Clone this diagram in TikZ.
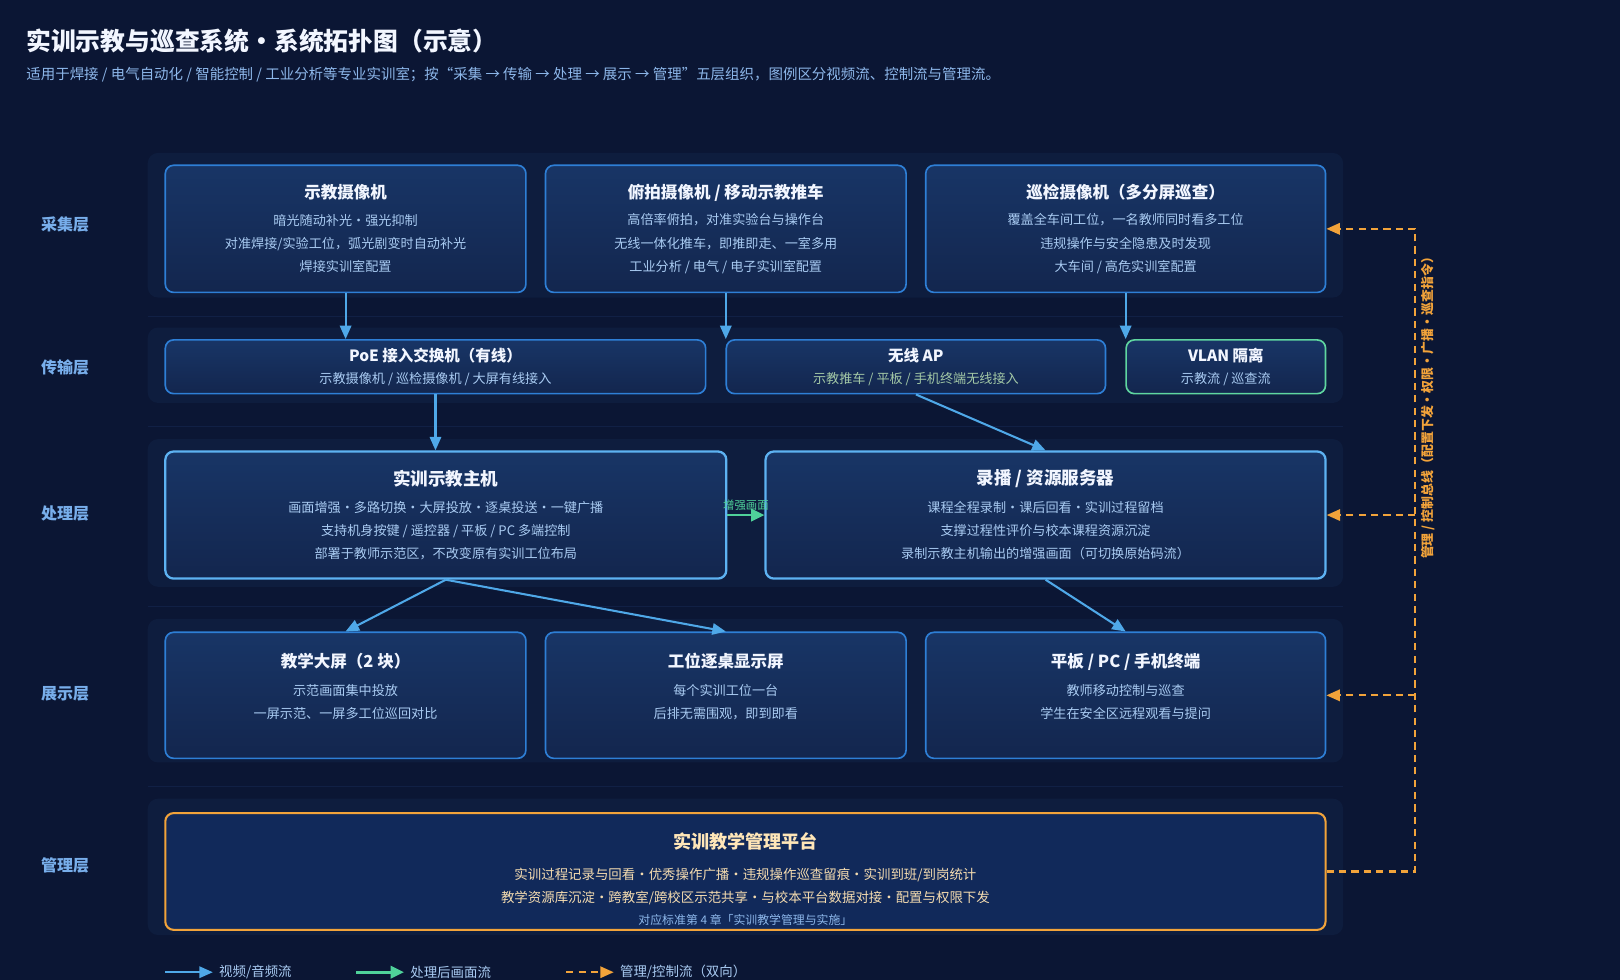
\documentclass[tikz,border=0pt]{standalone}
\usepackage{fontspec}
\setmainfont{Noto Sans CJK SC}
\usetikzlibrary{positioning, arrows.meta}

% 配色
\definecolor{bgcolor}{HTML}{0B1634}
\definecolor{bandcolor}{HTML}{0E1D3E}
\definecolor{sepcolor}{HTML}{112045}
\definecolor{boxtop}{HTML}{183566}
\definecolor{boxbottom}{HTML}{13264E}
\definecolor{boxline}{HTML}{2E7FD6}
\definecolor{coreline}{HTML}{5DB2F2}
\definecolor{vlanline}{HTML}{5FD6A0}
\definecolor{mgmtline}{HTML}{F2A33A}
\definecolor{mgmtfill}{HTML}{11295A}
\definecolor{titletext}{HTML}{F2F6FF}
\definecolor{bodytext}{HTML}{A9CBF2}
\definecolor{layertext}{HTML}{78AEEB}
\definecolor{subtext}{HTML}{8DB7EA}
\definecolor{aptext}{HTML}{A3C8A6}
\definecolor{mgmttext}{HTML}{F5DCB0}
\definecolor{mgmttitle}{HTML}{FFE6B8}
\definecolor{flowblue}{HTML}{4FA8E8}
\definecolor{flowgreen}{HTML}{4FD19A}
\definecolor{floworange}{HTML}{F2A33A}

\newcommand{\devtitle}[2][16]{{\fontsize{#1}{#1}\selectfont\bfseries\color{titletext}#2}}

\tikzset{
    devbox/.style={
        rectangle,
        rounded corners=8pt,
        draw=boxline,
        line width=1.6pt, % 设备框边线
        top color=boxtop,
        bottom color=boxbottom,
        align=center,
        inner sep=0,
        text=bodytext,
        font=\fontsize{12.7}{22.5}\selectfont
    },
    corebox/.style={
        devbox,
        draw=coreline,
        line width=2.2pt
    },
    vlanbox/.style={
        devbox,
        draw=vlanline
    },
    mgmtbox/.style={
        devbox,
        draw=mgmtline,
        line width=2pt,
        top color=mgmtfill,
        bottom color=mgmtfill,
        text=mgmttext,
        font=\fontsize{13}{22.5}\selectfont
    },
    layerlabel/.style={
        font=\fontsize{15.5}{18}\selectfont\bfseries,
        text=layertext
    },
    legendtext/.style={
        anchor=west,
        inner sep=3pt,
        font=\fontsize{13}{15}\selectfont,
        text=bodytext
    },
    videoflow/.style={
        draw=flowblue,
        line width=2pt,
        -{Triangle[length=13pt,width=11pt]}
    },
    picflow/.style={
        draw=flowgreen,
        line width=2.5pt,
        -{Triangle[length=13pt,width=12pt]}
    },
    ctrlflow/.style={
        draw=floworange,
        line width=2pt,
        dash pattern=on 7pt off 5pt,
        -{Triangle[length=13pt,width=11pt]}
    }
}

\begin{document}
\begin{tikzpicture}[x=1pt, y=-1pt]
    % 画布
    \fill[bgcolor] (0,0) rectangle (1568,948.5);
    \useasboundingbox (0,0) rectangle (1568,948.5);

    % 标题
    \node[anchor=west, font=\fontsize{24}{28}\selectfont\bfseries, text=titletext] (title) at (22,40)
        {实训示教与巡查系统·系统拓扑图（示意）};
    \node[anchor=west, font=\fontsize{14}{16}\selectfont, text=subtext] (subtitle) at (22,72)
        {适用于焊接 / 电气自动化 / 智能控制 / 工业分析等专业实训室；按“采集 → 传输 → 处理 → 展示 → 管理”五层组织，图例区分视频流、控制流与管理流。};

    % 分层底板
    \foreach \ya/\yb in {148/288, 317/390, 425/568, 599/738, 773/905}
        \fill[bandcolor, rounded corners=10pt] (143,\ya) rectangle (1300,\yb);
    \foreach \y in {306, 413, 587, 761}
        \draw[sepcolor, line width=1pt] (143,\y) -- (1300,\y);

    % 层名
    \node[layerlabel] (lcap) at (63,217) {采集层};
    \node[layerlabel] (ltrans) at (63,356) {传输层};
    \node[layerlabel] (lproc) at (63,497) {处理层};
    \node[layerlabel] (lshow) at (63,672) {展示层};
    \node[layerlabel] (lmgmt) at (63,838) {管理层};

    % 采集层
    \node[devbox, minimum width=349, minimum height=123] (cam1) at (334.5,221.5)
        {\devtitle{示教摄像机}\\[3pt]
         暗光随动补光·强光抑制\\
         对准焊接/实验工位，弧光剧变时自动补光\\
         焊接实训室配置};
    \node[devbox, minimum width=349, minimum height=123] (cam2) at (702.5,221.5)
        {\devtitle{俯拍摄像机 / 移动示教推车}\\[3pt]
         高倍率俯拍，对准实验台与操作台\\
         无线一体化推车，即推即走、一室多用\\
         工业分析 / 电气 / 电子实训室配置};
    \node[devbox, minimum width=387, minimum height=123] (cam3) at (1089.5,221.5)
        {\devtitle{巡检摄像机（多分屏巡查）}\\[3pt]
         覆盖全车间工位，一名教师同时看多工位\\
         违规操作与安全隐患及时发现\\
         大车间 / 高危实训室配置};

    % 传输层
    \node[devbox, minimum width=523, minimum height=52] (poe) at (421.5,355)
        {\devtitle[15]{PoE 接入交换机（有线）}\\[-1.5pt]
         示教摄像机 / 巡检摄像机 / 大屏有线接入};
    \node[devbox, minimum width=367, minimum height=52] (ap) at (886.5,355)
        {\devtitle[15]{无线 AP}\\[-1.5pt]
         \color{aptext}示教推车 / 平板 / 手机终端无线接入};
    \node[vlanbox, minimum width=193, minimum height=52] (vlan) at (1186.5,355)
        {\devtitle[15]{VLAN 隔离}\\[-1.5pt]
         示教流 / 巡查流};

    % 处理层
    \node[corebox, minimum width=543, minimum height=123] (host) at (431.5,498.5)
        {\devtitle[17]{实训示教主机}\\[4pt]
         画面增强·多路切换·大屏投放·逐桌投送·一键广播\\
         支持机身按键 / 遥控器 / 平板 / PC 多端控制\\
         部署于教师示范区，不改变原有实训工位布局};
    \node[corebox, minimum width=542, minimum height=123] (server) at (1012,498.5)
        {\devtitle[17]{录播 / 资源服务器}\\[4pt]
         课程全程录制·课后回看·实训过程留档\\
         支撑过程性评价与校本课程资源沉淀\\
         录制示教主机输出的增强画面（可切换原始码流）};

    % 展示层
    \node[devbox, minimum width=349, minimum height=122] (bigscreen) at (334.5,673)
        {\devtitle{教学大屏（2 块）}\\[5pt]
         示范画面集中投放\\
         一屏示范、一屏多工位巡回对比\\[-4pt]\mbox{}};
    \node[devbox, minimum width=349, minimum height=122] (desk) at (702.5,673)
        {\devtitle{工位逐桌显示屏}\\[5pt]
         每个实训工位一台\\
         后排无需围观，即到即看\\[-4pt]\mbox{}};
    \node[devbox, minimum width=387, minimum height=122] (tablet) at (1089.5,673)
        {\devtitle{平板 / PC / 手机终端}\\[5pt]
         教师移动控制与巡查\\
         学生在安全区远程观看与提问\\[-4pt]\mbox{}};

    % 管理层
    \node[mgmtbox, minimum width=1123, minimum height=113] (mgmt) at (721.5,843.5)
        {\mbox{}\\[8pt]
         {\fontsize{17.5}{20}\selectfont\bfseries\color{mgmttitle}实训教学管理平台}\\[7pt]
         实训过程记录与回看·优秀操作广播·违规操作巡查留痕·实训到班/到岗统计\\
         教学资源库沉淀·跨教室/跨校区示范共享·与校本平台数据对接·配置与权限下发\\[-1pt]
         {\fontsize{11.5}{13}\selectfont\color{subtext}对应标准第 4 章「实训教学管理与实施」}};

    % 视频流
    \draw[videoflow] (cam1.south) -- (cam1.south |- poe.north);
    \draw[videoflow] (cam2.south) -- (cam2.south |- ap.north);
    \draw[videoflow] (cam3.south) -- (cam3.south |- vlan.north);
    \draw[videoflow] (poe.south) -- (poe.south |- host.north);
    \draw[videoflow] (ap.south) -- (server.north);
    \draw[videoflow] (host.south) -- (bigscreen.north);
    \draw[videoflow] (host.south) -- (desk.north);
    \draw[videoflow] (server.south) -- (tablet.north);

    % 处理后画面流
    \draw[picflow] (host.east) -- node[above=3pt, inner sep=0, font=\fontsize{11}{12}\selectfont, text=flowgreen] (enhance) {增强画面} (server.west);

    % 管理/控制总线
    \coordinate (bus) at (1370,500);
    \draw[ctrlflow] (mgmt.east) -- (mgmt.east -| bus) -- (cam3.east -| bus) -- (cam3.east);
    \draw[ctrlflow] (server.east -| bus) -- (server.east);
    \draw[ctrlflow] (tablet.east -| bus) -- (tablet.east);
    \node[rotate=90, font=\fontsize{12.5}{14}\selectfont\bfseries, text=floworange] (buslabel) at (1382,392)
        {管理 / 控制总线（配置下发·权限·广播·巡查指令）};

    % 图例
    \coordinate (lgv) at (160,941);
    \node[legendtext] (lgvt) at (209,941) {视频/音频流};
    \draw[videoflow, shorten >=3pt] (lgv) -- (lgvt.west);
    \coordinate (lgg) at (345,941);
    \node[legendtext] (lggt) at (394,941) {处理后画面流};
    \draw[picflow, shorten >=3pt] (lgg) -- (lggt.west);
    \coordinate (lgc) at (548,941);
    \node[legendtext] (lgct) at (597,941) {管理/控制流（双向）};
    \draw[ctrlflow, shorten >=3pt] (lgc) -- (lgct.west);
\end{tikzpicture}
\end{document}
